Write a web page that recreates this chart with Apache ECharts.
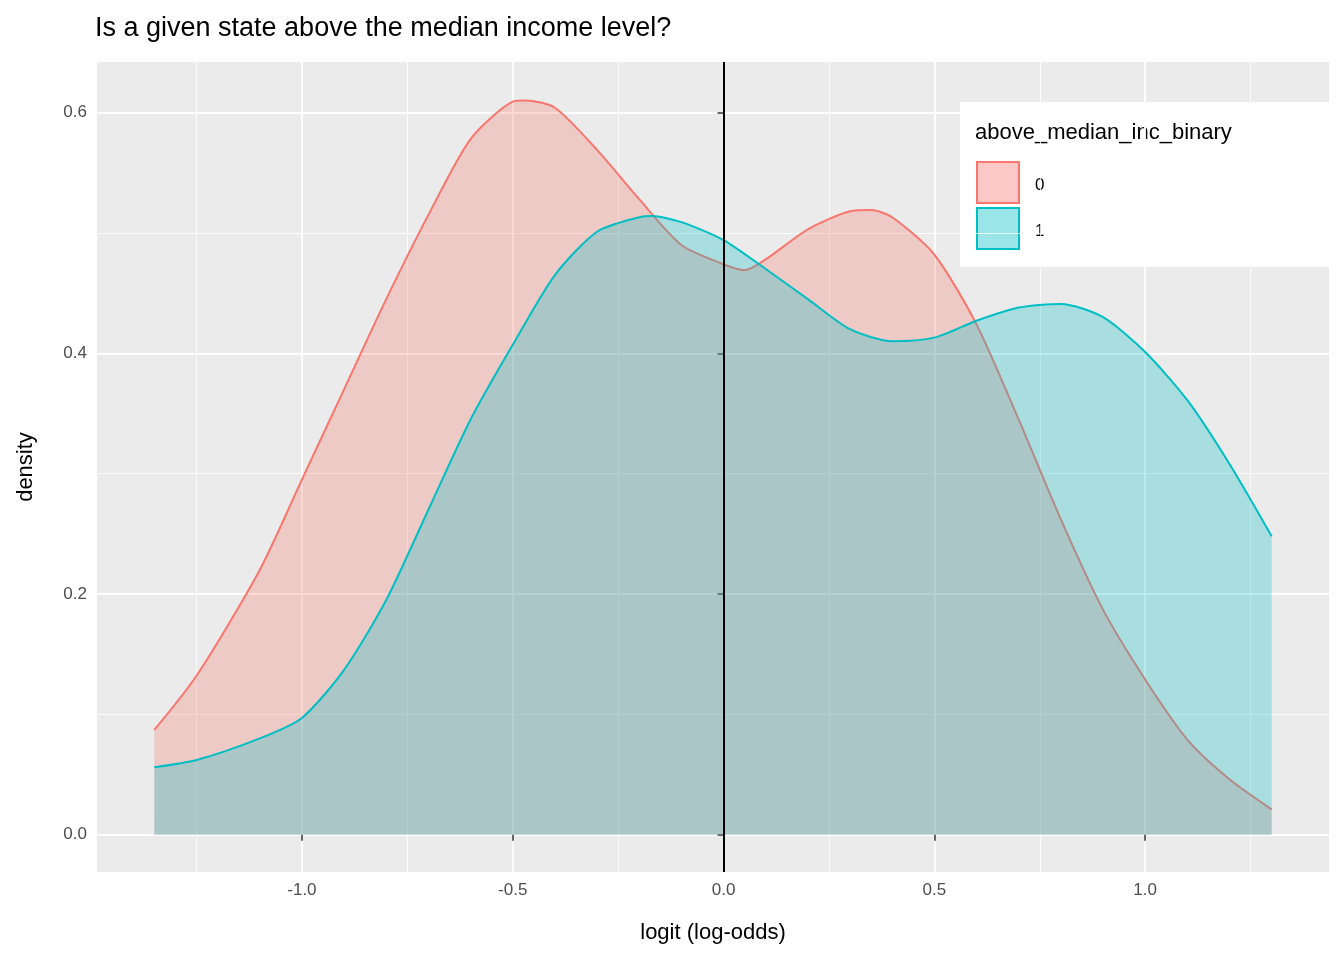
<!DOCTYPE html>
<html><head><meta charset="utf-8">
<script src="https://cdn.jsdelivr.net/npm/echarts@6/dist/echarts.min.js"></script>
<style>body{margin:0}#echarts{width:1344px;height:960px}</style>
</head><body><div id="echarts"></div>
<script>
var xs0 = [-1.35,-1.25,-1.1,-1.0,-0.9,-0.8,-0.7,-0.6,-0.5,-0.47,-0.4,-0.3,-0.2,-0.1,0.0,0.05,0.1,0.2,0.3,0.35,0.4,0.5,0.6,0.7,0.8,0.9,1.0,1.1,1.2,1.3];
var dens0 = [0.087,0.132,0.22,0.295,0.37,0.445,0.515,0.578,0.609,0.61,0.604,0.569,0.528,0.49,0.474,0.469,0.478,0.503,0.518,0.519,0.513,0.482,0.424,0.345,0.262,0.187,0.129,0.079,0.046,0.021];
var xs1 = [-1.35,-1.25,-1.1,-1.0,-0.9,-0.8,-0.7,-0.6,-0.5,-0.4,-0.3,-0.2,-0.17,-0.1,0.0,0.1,0.2,0.3,0.4,0.5,0.6,0.7,0.8,0.9,1.0,1.1,1.2,1.3];
var dens1 = [0.056,0.062,0.08,0.097,0.137,0.195,0.27,0.345,0.407,0.465,0.501,0.513,0.514,0.509,0.494,0.47,0.445,0.42,0.41,0.413,0.427,0.438,0.441,0.43,0.401,0.361,0.308,0.248];
var xMajor = [-1.0,-0.5,0.0,0.5,1.0];
var xMinor = [-1.25,-0.75,-0.25,0.25,0.75,1.25];
var yMajor = [0,0.2,0.4,0.6];
var yMinor = [0.1,0.3,0.5];

var myChart = echarts.init(document.getElementById('echarts'));
function pairs(xs, ys) { return xs.map(function (x, i) { return [x, ys[i]]; }); }
function gridLines() {
    var d = [];
    xMinor.forEach(function (v) { d.push({xAxis: v, lineStyle: {width: 0.8}}); });
    yMinor.forEach(function (v) { d.push({yAxis: v, lineStyle: {width: 0.8}}); });
    xMajor.forEach(function (v) { d.push({xAxis: v, lineStyle: {width: 1.8}}); });
    yMajor.forEach(function (v) { d.push({yAxis: v, lineStyle: {width: 1.8}}); });
    return d;
}
var font = 'Liberation Sans, Arial, sans-serif';
var option = {
    backgroundColor: '#fff',
    animation: false,
    title: {text: 'Is a given state above the median income level?', left: 90, top: 10,
        textStyle: {fontFamily: font, fontSize: 27, fontWeight: 'normal', color: '#000'}},
    grid: {left: 97, right: 15, top: 62, bottom: 88, backgroundColor: '#EBEBEB', show: true, borderWidth: 0},
    xAxis: {
        type: 'value', min: -1.486, max: 1.436,
        name: 'logit (log-odds)', nameLocation: 'middle', nameGap: 50,
        nameTextStyle: {fontFamily: font, fontSize: 22, color: '#000'},
        splitLine: {show: false}, axisLine: {show: false},
        axisTick: {show: true, customValues: xMajor, length: 6, lineStyle: {color: '#333', width: 1.5}},
        axisLabel: {customValues: xMajor, fontFamily: font, fontSize: 17, color: '#4D4D4D', margin: 10,
            formatter: function (v) { return v.toFixed(1); }}
    },
    yAxis: {
        type: 'value', min: -0.031, max: 0.642,
        name: 'density', nameLocation: 'middle', nameGap: 60,
        nameTextStyle: {fontFamily: font, fontSize: 22, color: '#000'},
        splitLine: {show: false}, axisLine: {show: false},
        axisTick: {show: true, customValues: yMajor, length: 6, lineStyle: {color: '#333', width: 1.5}},
        axisLabel: {customValues: yMajor, fontFamily: font, fontSize: 17, color: '#4D4D4D', margin: 10,
            formatter: function (v) { return v.toFixed(1); }}
    },
    series: [
        {type: 'line', data: [], silent: true, z: 0,
            markLine: {symbol: 'none', silent: true, label: {show: false}, z: 0,
                lineStyle: {color: '#fff', type: 'solid'}, data: gridLines()}},
        {name: '0', type: 'line', smooth: 0.25, symbol: 'none', data: pairs(xs0, dens0), z: 2,
            lineStyle: {color: '#F8766D', width: 2}, areaStyle: {color: 'rgba(248,118,109,0.4)', origin: 0}},
        {name: '1', type: 'line', smooth: 0.25, symbol: 'none', data: pairs(xs1, dens1), z: 3,
            lineStyle: {color: '#00BFC4', width: 2}, areaStyle: {color: 'rgba(0,191,196,0.4)', origin: 0},
            markLine: {symbol: 'none', silent: true, label: {show: false}, z: 5,
                lineStyle: {color: '#000', width: 2, type: 'solid'}, data: [{xAxis: 0}]}}
    ],
    graphic: [
        {type: 'rect', shape: {x: 960, y: 102, width: 369, height: 165}, style: {fill: '#fff'}},
        {type: 'text', x: 975, y: 133, style: {text: 'above_median_inc_binary', fontFamily: font, fontSize: 22, fill: '#000', verticalAlign: 'middle'}},
        {type: 'rect', shape: {x: 977, y: 162, width: 42, height: 41}, style: {fill: 'rgba(248,118,109,0.4)', stroke: '#F8766D', lineWidth: 2}},
        {type: 'rect', shape: {x: 977, y: 208, width: 42, height: 41}, style: {fill: 'rgba(0,191,196,0.4)', stroke: '#00BFC4', lineWidth: 2}},
        {type: 'text', x: 1035, y: 185, style: {text: '0', fontFamily: font, fontSize: 17, fill: '#000', verticalAlign: 'middle'}},
        {type: 'text', x: 1035, y: 231, style: {text: '1', fontFamily: font, fontSize: 17, fill: '#000', verticalAlign: 'middle'}}
    ]
};
myChart.setOption(option);
</script></body></html>
